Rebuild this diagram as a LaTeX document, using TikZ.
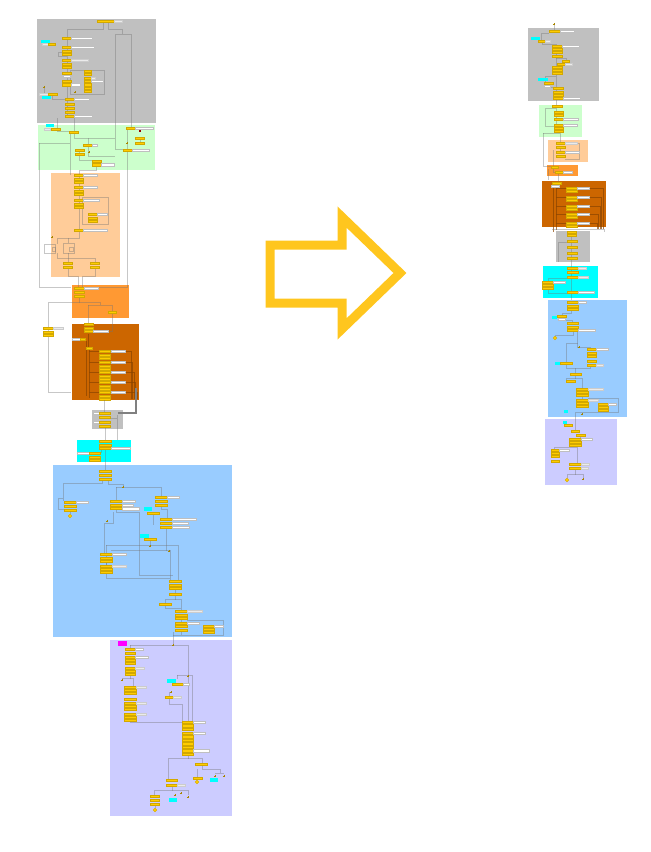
\documentclass[tikz,border=0pt]{standalone}
\begin{document}
\definecolor{boxgrey}{HTML}{C0C0C0}
\definecolor{boxgreen}{HTML}{CCFFCC}
\definecolor{boxpeach}{HTML}{FFCC99}
\definecolor{boxorange}{HTML}{FF9933}
\definecolor{boxbrown}{HTML}{CC6600}
\definecolor{boxcyan}{HTML}{00FFFF}
\definecolor{boxblue}{HTML}{99CCFF}
\definecolor{boxlav}{HTML}{CCCCFF}
\definecolor{boxmag}{HTML}{FF00FF}
\definecolor{barfill}{HTML}{FFCC00}
\definecolor{baredge}{HTML}{D2A800}
\definecolor{arrowcol}{HTML}{FFC61E}
\definecolor{brownwire}{HTML}{8A4500}
\tikzset{
  region/.style={draw=white, line width=0.8pt},
  ybar/.style={fill=barfill, draw=baredge, line width=0.35pt},
  wlab/.style={fill=white, draw=black!25, line width=0.35pt},
  glab/.style={fill=black!8, draw=black!20, line width=0.35pt},
  cybox/.style={fill=boxcyan, draw=none},
  conn/.style={draw=black!55, line width=0.9pt, draw opacity=0.4},
  bconn/.style={draw=brownwire, line width=0.9pt, draw opacity=0.7},
  pin/.style={draw=baredge!80!black, line width=0.6pt}
}
% small drawing helpers: yellow bar, stack of bars, white / grey text slot
\newcommand\ybr[3]{\path[ybar] (#1,#2) rectangle ++(#3,2.2);}
\newcommand\ysk[4]{\foreach \k in {1,...,#3}{\path[ybar] (#1,{#2+(\k-1)*3.7}) rectangle ++(#4,2.2);}}
\newcommand\wlb[3]{\path[wlab] (#1,#2) rectangle ++(#3,2.2);}
\newcommand\glb[3]{\path[glab] (#1,#2) rectangle ++(#3,2.2);}
\newcommand\cyb[4]{\path[cybox] (#1,#2) rectangle ++(#3,#4);}
\newcommand\ydisc[2]{\path[ybar] (#1,#2) circle (1.8);}
\newcommand\pinmark[2]{\draw[pin] (#1-1.2,#2)--(#1+1.2,#2) (#1,#2-1.2)--(#1,#2+1.2);}
\begin{tikzpicture}[x=1pt,y=-1pt]
\useasboundingbox (0,0) rectangle (651,852);

% ================= left column: coloured regions =================
\path[region, fill=boxgrey]   (36,18)  rectangle (156,123);
\path[region, fill=boxgreen]  (37,124) rectangle (155,170);
\path[region, fill=boxpeach]  (50,172) rectangle (120,277);
\path[region, fill=boxorange] (71,284) rectangle (129,318);
\path[region, fill=boxbrown]  (71,323) rectangle (139,400);
\path[region, fill=boxgrey]   (91,409) rectangle (123,429);
\path[region, fill=boxcyan]   (76,439) rectangle (131,462);
\path[region, fill=boxblue]   (52,464) rectangle (232,637);
\path[region, fill=boxlav]    (109,639) rectangle (232,816);
\fill[boxmag] (118,641) rectangle (127,646);

% ---- grey block ----
\draw[conn] (103,22.5)--(103,29)--(67,29)--(67,37);
\draw[conn] (108,22.5)--(108,29)--(122,29)--(122,34);
\draw[conn] (115,149)--(115,34)--(131,34)--(131,128);
\draw[conn] (67,39.5)--(67,118);
\draw[conn] (62,52)--(58,52)--(58,56)--(67,56);
\draw[conn] (70,70) rectangle (104,94);
\draw[conn] (52,96)--(52,99.5)--(65,99.5);
\draw[conn] (44,88)--(44,93);
\draw[conn] (57,118)--(57,131.5)--(69,131.5);
\draw[conn] (74,118)--(74,131);
\ybr{97}{20}{17} \glb{114}{20}{8}
\ybr{62}{37}{9} \wlb{71}{37}{21}
\cyb{41}{40}{9}{3} \glb{42}{43}{6} \ybr{48}{43}{7}
\ysk{62}{46}{3}{9} \wlb{71}{46}{23}
\ysk{62}{59}{3}{9} \glb{71}{59}{17}
\ybr{62}{72}{9} \wlb{63}{75}{7}
\ybr{62}{80}{9} \ybr{62}{83.5}{9} \wlb{71}{83.5}{9}
\foreach \yy in {70,73.4,76.8,80.2,83.6,87,90.4}{\ybr{84}{\yy}{7}}
\wlb{91}{80.2}{12} \glb{91}{76.8}{4}
\pinmark{44}{87} \pinmark{75}{92}
\cyb{42}{96}{9}{3} \glb{39}{93}{9} \ybr{48}{93}{9}
\foreach \yy in {98,103,107,111,115}{\ybr{65}{\yy}{9}}
\wlb{74}{98}{15} \wlb{74}{115}{18}

% ---- green block ----
\draw[conn] (39,143)--(70,143);
\draw[conn] (70,134)--(70,175);
\draw[conn] (39,143)--(39,287)--(71,287);
\draw[conn] (74,134)--(74,138)--(115,138);
\draw[conn] (88,138)--(88,144);
\draw[conn] (79,151)--(79,160)--(96,160);
\draw[conn] (88,146.5)--(88,156)--(115,156);
\draw[conn] (127,130)--(127,149);
\draw[conn] (115,149)--(132,149);
\draw[conn] (127,152)--(127,287)--(82,287);
\draw[conn] (140,140)--(140,144);
\draw[conn] (96,166)--(96,170)--(79,170)--(79,174);
\cyb{46}{124}{8}{3} \glb{44}{128}{6} \ybr{51}{128}{9}
\ybr{69}{131}{9}
\ybr{126}{127}{9} \wlb{135}{127}{18}
\fill[red!60!black] (139,130) rectangle ++(1.5,1.5);
\ybr{135}{137}{9} \ybr{135}{142}{9}
\ybr{123}{149}{9} \wlb{132}{149}{17}
\ybr{83}{144}{9} \wlb{92}{144}{5}
\ybr{75}{149}{9} \ybr{75}{153}{9}
\pinmark{89}{152} \pinmark{127}{143}
\ybr{92}{160}{9} \ybr{92}{163.5}{9} \wlb{101}{163.5}{13}

% ---- peach block ----
\draw[conn] (79,176)--(79,229);
\draw[conn] (82,197) rectangle (108,224);
\draw[conn] (79,232)--(79,238)--(57,238)--(57,244);
\draw[conn] (68,238)--(68,243);
\draw[conn] (44,244) rectangle (55,253);
\draw[conn] (52,247) rectangle (55,251);
\draw[conn] (63,243) rectangle (74,253);
\draw[conn] (69,247) rectangle (73,251);
\draw[conn] (57,253)--(57,258)--(95,258)--(95,262);
\draw[conn] (68,253)--(68,262);
\draw[conn] (68,269)--(68,276)--(78,276)--(78,287);
\draw[conn] (95,269)--(95,276)--(82,276)--(82,287);
\ysk{74}{174}{3}{9} \wlb{83}{174}{14}
\ysk{74}{186}{3}{9} \wlb{83}{186}{14}
\ysk{74}{199}{3}{9} \wlb{83}{199}{16}
\ysk{88}{213}{3}{9} \wlb{97}{213}{10}
\ybr{74}{229}{9} \wlb{83}{229}{24}
\pinmark{52}{237}
\ybr{63}{262}{9} \ybr{63}{266}{9}
\ybr{90}{262}{9} \ybr{90}{266}{9}

% ---- orange block ----
\draw[conn] (79,297)--(79,302)--(48,302)--(48,392)--(71,392);
\draw[conn] (79,302)--(100,302)--(100,305);
\draw[conn] (88,305)--(112,305);
\draw[conn] (88,305)--(88,323);
\draw[conn] (112,305)--(112,311);
\draw[conn] (112,314)--(112,331)--(110,331);
\ybr{74}{287}{10} \ybr{74}{291}{10} \ybr{74}{295}{10} \wlb{84}{287}{14}
\ybr{108}{311}{8}
\ysk{43}{327}{3}{10} \glb{53}{327}{10}

% ---- dark orange block ----
\draw[bconn] (88,334)--(88,347);
\draw[bconn] (86,341)--(86,396);
\draw[bconn] (89,350)--(89,398);
\draw[bconn] (80,340)--(84,340);
\foreach \yy/\xx in {350/131,361/132.5,371/134,381/135.5,391/137}{
  \draw[bconn] (89,\yy+1)--(99,\yy+1);
  \draw[bconn] (125,\yy+1)--(\xx,\yy+1)--(\xx,399);
  \ysk{99}{\yy}{3}{11} \wlb{111}{\yy}{14}
}
\ysk{84}{323}{3}{9} \wlb{93}{330.4}{15}
\wlb{72}{338}{8} \ybr{80}{338}{5}
\ybr{86}{347}{6}
\draw[draw=black!50, line width=2.5pt] (136,388)--(136,413)--(118,413);

% ---- small grey block ----
\draw[conn] (104,400)--(104,412);
\draw[conn] (105,428)--(105,440);
\draw[conn] (117,415)--(117,440);
\draw[conn] (110,418)--(117,418);
\wlb{93}{412}{6} \ybr{99}{412}{11} \ybr{99}{416}{11}
\wlb{93}{421}{6} \ybr{99}{421}{11} \ybr{99}{425}{11}

% ---- cyan block ----
\draw[conn] (105,450)--(105,470);
\draw[conn] (101,450)--(101,452)--(95,452);
\ysk{99}{440}{3}{12} \wlb{111}{447.4}{19}
\wlb{77}{452}{12} \ysk{89}{452}{3}{11}

% ---- blue block ----
\draw[conn] (102,480.5)--(102,483)--(63,483)--(63,501);
\draw[conn] (63,498)--(58,498)--(58,509)--(64,509);
\draw[conn] (108,480.5)--(108,484)--(123,484)--(123,487);
\draw[conn] (116,487)--(161,487);
\draw[conn] (116,487)--(116,500);
\draw[conn] (161,487)--(161,496);
\draw[conn] (70,511)--(70,514);
\draw[conn] (161,506)--(161,509)--(167,509)--(167,518);
\draw[conn] (153,514.5)--(153,525);
\draw[conn] (166,528)--(166,551);
\draw[conn] (150,540.5)--(150,546);
\draw[conn] (116,510)--(116,512)--(139,512)--(139,575)--(173,575);
\draw[conn] (113,512)--(113,523)--(104,523)--(104,553);
\draw[conn] (106,545)--(178,545)--(178,580);
\draw[conn] (106,545)--(106,578)--(170,578);
\draw[conn] (111,550)--(170,550)--(170,580);
\draw[conn] (106,563)--(106,565);
\draw[conn] (175,590)--(175,593);
\draw[conn] (175,596)--(175,599)--(165,599)--(165,603);
\draw[conn] (175,599)--(181,599)--(181,610);
\draw[conn] (165,606)--(165,608)--(181,608);
\draw[conn] (181,620)--(181,622);
\draw[conn] (187,620)--(223,620)--(223,635)--(173,635);
\draw[conn] (181,632)--(181,635);
\draw[conn] (173,632)--(173,645);
\pinmark{123}{487} \pinmark{169}{551} \pinmark{150}{546} \pinmark{107}{521}
\ybr{99}{470}{12} \ybr{99}{474}{12} \ybr{99}{478}{12}
\ybr{64}{501}{12} \ybr{64}{505}{12} \ybr{64}{509}{12} \wlb{76}{501}{12}
\ydisc{70}{516}
\ybr{110}{500}{12} \ybr{110}{504}{12} \ybr{110}{507}{12}
\wlb{122}{500}{13} \wlb{122}{504}{11} \wlb{122}{507.5}{17}
\ybr{155}{496}{12} \ybr{155}{500}{12} \ybr{155}{504}{12} \wlb{167}{496}{12}
\cyb{144}{507}{8}{3.5} \ybr{147}{512}{12}
\ybr{160}{518}{12} \ybr{160}{522}{12} \ybr{160}{526}{12}
\wlb{172}{518}{24} \wlb{172}{522}{16} \wlb{172}{526}{17}
\cyb{140}{534}{9}{3.5} \ybr{144}{538}{12}
\ybr{100}{553}{12} \ybr{100}{557}{12} \ybr{100}{560}{12} \wlb{112}{553}{14}
\ybr{100}{565}{12} \ybr{100}{568}{12} \ybr{100}{571}{12} \glb{112}{565}{14}
\ybr{169}{580}{12} \ybr{169}{584}{12} \ybr{169}{587}{12} \ybr{169}{593}{12}
\ybr{159}{603}{12}
\ybr{175}{610}{12} \ybr{175}{614}{12} \ybr{175}{617}{12} \glb{187}{610}{15}
\ybr{175}{622}{12} \ybr{175}{625}{12} \ybr{175}{629}{12} \wlb{187}{622}{12}
\ybr{203}{625}{11} \ybr{203}{628}{11} \ybr{203}{631}{11} \wlb{214}{625}{9}

% ---- lavender block ----
\draw[conn] (130,645)--(188,645)--(188,721);
\draw[conn] (130,645)--(130,648);
\draw[conn] (130,675)--(130,678)--(122,678)--(122,681);
\draw[conn] (130,678)--(133,678)--(133,686);
\draw[conn] (130,721)--(130,722)--(182,722);
\draw[conn] (177,675)--(177,679);
\draw[conn] (177,675)--(192,675)--(192,721);
\draw[conn] (169,692)--(169,696);
\draw[conn] (169,699)--(169,704)--(182,704)--(182,721);
\draw[conn] (188,755)--(188,758)--(168,758)--(168,779);
\draw[conn] (188,758)--(202,758)--(202,763);
\draw[conn] (202,766)--(202,769)--(220,769)--(220,773);
\draw[conn] (197,769)--(197,777);
\draw[conn] (215,773)--(224,773);
\draw[conn] (172,786.5)--(172,790)--(154,790)--(154,795);
\draw[conn] (172,790)--(188,790)--(188,795);
\draw[conn] (155,805.5)--(155,808);
\pinmark{173}{645} \pinmark{122}{680} \pinmark{188}{676} \pinmark{171}{692}
\pinmark{215}{776} \pinmark{224}{776} \pinmark{175}{795} \pinmark{188}{797} \pinmark{181}{793}
\foreach \yy in {648,652,656,659,662,667,670,673}{\ybr{125}{\yy}{10}}
\wlb{135}{648}{8} \wlb{135}{656}{13} \glb{135}{667}{9}
\foreach \yy in {686,689,692,698,702,705,708,713,716,719}{\ybr{124}{\yy}{12}}
\glb{136}{686}{10} \glb{136}{702}{10} \glb{136}{713}{10}
\cyb{167}{679}{9}{3.5} \ybr{172}{683}{11} \wlb{183}{683}{6}
\ybr{165}{696}{8} \glb{173}{696}{8}
\foreach \yy in {721,724.5,728,732,735.5,739,742.5,746,749.5,753}{\ybr{182}{\yy}{11}}
\wlb{193}{721}{12} \wlb{193}{732}{12} \wlb{193}{749.5}{16}
\ybr{195}{763}{12}
\ybr{193}{777}{9} \ydisc{197}{782} \cyb{210}{778}{8}{3.5}
\ybr{166}{779}{11} \ybr{166}{784}{11} \glb{177}{784}{8}
\ybr{150}{795}{9} \ybr{150}{799}{9} \ybr{150}{803}{9} \ydisc{155}{810}
\cyb{169}{798}{8}{3.5}

% ================= big hollow arrow =================
\draw[arrowcol, line width=9pt, miter limit=10]
  (270,245) -- (342,245) -- (342,217) -- (400,273) -- (342,329) -- (342,303) -- (270,303) -- cycle;

% ================= right column: coloured regions =================
\path[region, fill=boxgrey]   (527,27)  rectangle (599,101);
\path[region, fill=boxgreen]  (538,104) rectangle (582,137);
\path[region, fill=boxpeach]  (547,139) rectangle (588,162);
\path[region, fill=boxorange] (546,164) rectangle (578,176);
\path[region, fill=boxbrown]  (541,180) rectangle (606,227);
\path[region, fill=boxgrey]   (555,230) rectangle (590,262);
\path[region, fill=boxcyan]   (542,265) rectangle (598,298);
\path[region, fill=boxblue]   (547,299) rectangle (627,417);
\path[region, fill=boxlav]    (544,418) rectangle (617,485);

% ---- grey block ----
\draw[conn] (554,24)--(554,31);
\draw[conn] (549,33)--(541,33)--(541,40);
\draw[conn] (542,42.5)--(542,44)--(556,44)--(556,133);
\draw[conn] (556,58)--(566,58)--(566,60);
\draw[conn] (556,76)--(545,76)--(545,82);
\draw[conn] (548,85)--(548,87)--(556,87);
\pinmark{554}{24}
\ybr{549}{30}{11} \wlb{560}{30}{14}
\cyb{531}{37}{9}{3} \ybr{538}{40}{7} \glb{545}{40}{5}
\ybr{552}{45}{10} \ybr{552}{48}{10} \ybr{552}{51}{10} \wlb{562}{45}{17}
\ybr{552}{55}{10}
\ybr{562}{60}{7} \ybr{557}{63}{8} \glb{565}{63}{7}
\ybr{552}{66}{10} \ybr{552}{69}{10} \ybr{552}{72}{10}
\cyb{538}{78}{10}{3} \ybr{544}{82}{9} \wlb{544}{85}{6}
\ybr{553}{87}{10} \ybr{553}{91}{10} \ybr{553}{94}{10} \ybr{553}{97}{10} \wlb{563}{97}{17}

% ---- green block ----
\draw[conn] (556,108)--(545,108)--(545,126)--(554,126);
\draw[conn] (543,133)--(560,133)--(560,142);
\draw[conn] (543,133)--(543,166)--(553,166);
\ybr{552}{105}{10}
\ybr{554}{111}{9} \ybr{554}{114}{9}
\ybr{554}{118}{9} \wlb{563}{118}{15}
\ybr{554}{124}{9} \ybr{554}{127}{9} \ybr{554}{130}{9} \wlb{563}{124}{14}

% ---- peach block ----
\draw[conn] (565,143)--(579,143)--(579,159)--(565,159);
\draw[conn] (553,150)--(553,167);
\draw[conn] (560,148)--(560,151);
\ybr{556}{142}{9} \ybr{556}{146}{9} \glb{565}{142}{12}
\ybr{556}{151}{9} \ybr{556}{155}{9} \wlb{565}{151}{14}

% ---- orange block ----
\draw[conn] (553,168.5)--(553,172)--(555,172);
\draw[conn] (558,173.5)--(558,182);
\draw[conn] (548,169)--(548,180);
\ybr{551}{166}{7}
\ybr{555}{171}{8} \wlb{563}{171}{9}

% ---- dark orange block ----
\draw[bconn] (553,187)--(553,232);
\draw[bconn] (556,187)--(556,230);
\foreach \yy/\xx in {187/603,196/601.5,205/600,213/598.5,222/597}{
  \draw[bconn] (556,\yy+1.5)--(566,\yy+1.5);
  \draw[bconn] (589,\yy+1)--(\xx,\yy+1)--(\xx,229);
  \ybr{566}{\yy}{11} \ybr{566}{\yy+3.3}{11} \wlb{577}{\yy}{12}
}
\ybr{552}{182}{9} \wlb{551}{185}{8}
\draw[conn] (552,229)--(604,229)--(604,232);

% ---- grey block ----
\draw[conn] (571,233)--(571,300);
\draw[conn] (567,242)--(558,242)--(558,262);
\ybr{567}{231}{9} \ybr{567}{234}{9}
\ybr{567}{240}{10}
\ybr{567}{246}{10} \ybr{567}{252}{10} \ybr{567}{257}{10}

% ---- cyan block ----
\draw[conn] (571,278)--(548,278)--(548,281);
\draw[conn] (548,289.5)--(548,293)--(567,293);
\ybr{567}{267}{11} \glb{578}{267}{8}
\ybr{567}{271}{11}
\ybr{567}{276}{11} \glb{578}{276}{10}
\ybr{542}{281}{11} \ybr{542}{284}{11} \ybr{542}{287}{11} \wlb{553}{281}{12}
\ybr{567}{291}{11} \wlb{578}{291}{16}

% ---- blue block ----
\draw[conn] (571,310.5)--(571,313)--(562,313)--(562,315);
\draw[conn] (562,318)--(562,320)--(572,320)--(572,322);
\draw[conn] (573,331.5)--(573,335)--(555,335)--(555,336.5);
\draw[conn] (577,331.5)--(577,343)--(566,343)--(566,368)--(580,368);
\draw[conn] (577,343)--(577,347)--(590,347)--(590,348);
\draw[conn] (590,366.5)--(590,368)--(580,368);
\draw[conn] (575,368)--(575,373);
\draw[conn] (575,375.5)--(575,378)--(566,378)--(566,380);
\draw[conn] (575,378)--(582,378)--(582,388);
\draw[conn] (582,396.5)--(582,399);
\draw[conn] (588,398)--(618,398)--(618,412)--(575,412)--(575,420);
\pinmark{579}{347} \pinmark{582}{414}
\ybr{567}{301}{11} \ybr{567}{305}{11} \ybr{567}{308}{11} \wlb{578}{301}{8}
\cyb{552}{316}{5}{2.5} \ybr{557}{315}{9} \wlb{558}{318}{7}
\ybr{567}{322}{11} \ybr{567}{326}{11} \ybr{567}{329}{11} \wlb{578}{329}{17}
\ydisc{555}{338}
\ybr{587}{348}{9} \ybr{587}{352}{9} \ybr{587}{355}{9} \wlb{596}{348}{12}
\ybr{587}{360}{9} \ybr{587}{364}{9} \glb{596}{364}{7}
\cyb{555}{362}{5}{2.5} \ybr{560}{362}{12}
\ybr{570}{373}{11}
\ybr{566}{380}{9}
\ybr{576}{388}{12} \ybr{576}{391}{12} \ybr{576}{394}{12} \glb{588}{388}{15}
\ybr{576}{399}{12} \ybr{576}{402}{12} \ybr{576}{405}{12} \glb{588}{399}{10}
\ybr{598}{403}{10} \ybr{598}{406}{10} \ybr{598}{409}{10} \wlb{608}{403}{8}
\cyb{564}{410}{4}{2.5}

% ---- lavender block ----
\draw[conn] (575,420)--(575,430);
\draw[conn] (580,436.5)--(580,438);
\draw[conn] (577,446.5)--(577,463);
\draw[conn] (577,447)--(554,447)--(554,449);
\draw[conn] (575,469.5)--(575,474)--(567,474)--(567,478);
\draw[conn] (575,474)--(583,474)--(583,478);
\cyb{563}{421}{4}{2.5}
\ybr{564}{424}{8}
\ybr{571}{430}{8} \ybr{576}{434}{9}
\ybr{569}{438}{12} \ybr{569}{441}{12} \ybr{569}{444}{12} \wlb{581}{438}{11}
\ybr{551}{449}{8} \ybr{551}{452}{8} \ybr{551}{455}{8} \ybr{551}{460}{8} \wlb{559}{449}{10}
\ybr{569}{463}{12} \ybr{569}{467}{12} \glb{581}{463}{8} \glb{581}{467}{7}
\ydisc{567}{480} \pinmark{583}{479}
\end{tikzpicture}
\end{document}
